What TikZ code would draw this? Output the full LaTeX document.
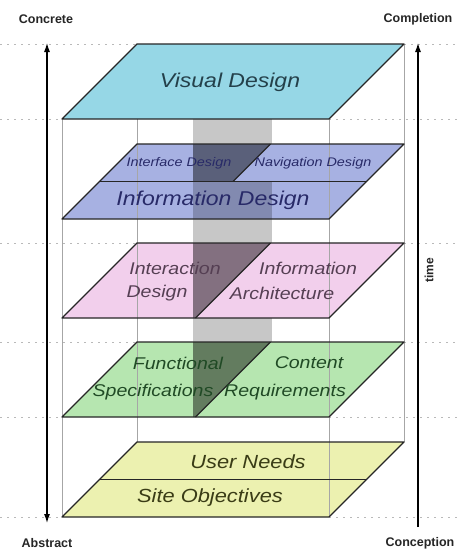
\documentclass[tikz,border=0pt]{standalone}
\usepackage{fontspec}
\setmainfont{Liberation Sans}
\usetikzlibrary{arrows.meta}
\definecolor{cvis}{HTML}{96D7E6}
\definecolor{cinf}{HTML}{A7B1E2}
\definecolor{cint}{HTML}{F2CFEC}
\definecolor{cfun}{HTML}{B6E6B0}
\definecolor{cusr}{HTML}{ECF1B0}
\definecolor{tvis}{HTML}{24404A}
\definecolor{tinf}{HTML}{282A68}
\definecolor{tint}{HTML}{553F53}
\definecolor{tfun}{HTML}{204A25}
\definecolor{tusr}{HTML}{3A3C16}
\newcommand\wideit[1]{\scalebox{1.15}[1]{#1}}
\newcommand\mkplane[2]{%
  \coordinate (#1BL) at (137,#2);
  \coordinate (#1BR) at (404,#2);
  \coordinate (#1FL) at (62,#2+75);
  \coordinate (#1FR) at (329,#2+75);
  \coordinate (#1BM) at (270.5,#2);
  \coordinate (#1FM) at (195.5,#2+75);
  \coordinate (#1ML) at (99.5,#2+37.5);
  \coordinate (#1MR) at (366.5,#2+37.5);
  \coordinate (#1MM) at (233,#2+37.5);
}
\begin{document}
\begin{tikzpicture}[x=1pt,y=-1pt,
  dots/.style={gray!55, line width=0.9pt, dash pattern=on 1.5pt off 5.5pt},
  edgeline/.style={gray!70, line width=0.6pt},
  outline/.style={draw=black!85, line width=1.3pt, line join=round},
  ax/.style={line width=1.1pt, black},
  axlbl/.style={font=\fontsize{12.5}{14}\selectfont\bfseries, text=black!85, inner sep=0pt},
  big/.style={font=\fontsize{20}{22}\selectfont\itshape, inner sep=0pt},
  mid/.style={font=\fontsize{17}{19}\selectfont\itshape, inner sep=0pt},
  small/.style={font=\fontsize{12.5}{14}\selectfont\itshape, inner sep=0pt},
]
\useasboundingbox (0,0) rectangle (459,550);
\fill[white] (0,0) rectangle (459,550);
\mkplane{V}{44}
\mkplane{I}{144}
\mkplane{X}{243}
\mkplane{F}{342}
\mkplane{U}{442}
% dotted guide lines
\draw[dots] (0,44) -- (VBL);  \draw[dots] (VBR) -- (459,44);
\draw[dots] (0,119) -- (VFL); \draw[dots] (VFR) -- (459,119);
\draw[dots] (0,243) -- (XBL); \draw[dots] (XBR) -- (459,243);
\draw[dots] (0,342) -- (FBL); \draw[dots] (FBR) -- (459,342);
\draw[dots] (0,417) -- (FFL); \draw[dots] (FFR) -- (459,417);
\draw[dots] (0,517) -- (UFL); \draw[dots] (UFR) -- (459,517);
% plane fills
\fill[cvis] (VFL) -- (VFR) -- (VBR) -- (VBL) -- cycle;
\fill[cinf] (IFL) -- (IFR) -- (IBR) -- (IBL) -- cycle;
\fill[cint] (XFL) -- (XFR) -- (XBR) -- (XBL) -- cycle;
\fill[cfun] (FFL) -- (FFR) -- (FBR) -- (FBL) -- cycle;
\fill[cusr] (UFL) -- (UFR) -- (UBR) -- (UBL) -- cycle;
% gray column
\fill[black, opacity=0.22] (193,119) rectangle (272,417);
% right halves stay clear
\fill[cinf] (IBM) -- (IBR) -- (IMR) -- (IMM) -- cycle;
\fill[cint] (XBM) -- (XBR) -- (XFR) -- (XFM) -- cycle;
\fill[cfun] (FBM) -- (FBR) -- (FFR) -- (FFM) -- cycle;
% darker intersections
\fill[black, opacity=0.3] (193,144) -- (IBM) -- (IMM) -- (193,181.5) -- cycle;
\fill[black, opacity=0.3] (193,243) -- (XBM) -- (XFM) -- (193,318) -- cycle;
\fill[black, opacity=0.3] (193,342) -- (FBM) -- (FFM) -- (193,417) -- cycle;
% box edges
\draw[edgeline] (VFL) -- (UFL);
\draw[edgeline] (VBL |- VFL) -- (UBL);
\draw[edgeline] (VFR) -- (UFR);
\draw[edgeline] (VBR) -- (UBR);
% outlines
\draw[outline] (VFL) -- (VFR) -- (VBR) -- (VBL) -- cycle;
\draw[outline] (IFL) -- (IFR) -- (IBR) -- (IBL) -- cycle;
\draw[outline] (IML) -- (IMR);
\draw[outline] (IBM) -- (IMM);
\draw[outline] (XFL) -- (XFR) -- (XBR) -- (XBL) -- cycle;
\draw[outline] (XBM) -- (XFM);
\draw[outline] (FFL) -- (FFR) -- (FBR) -- (FBL) -- cycle;
\draw[outline] (FBM) -- (FFM);
\draw[outline] (UFL) -- (UFR) -- (UBR) -- (UBL) -- cycle;
\draw[outline] (UML) -- (UMR);
% plane texts
\node[big, text=tvis] (tv) at (230,82) {\wideit{Visual Design}};
\node[small, text=tinf] (tif) at (179,163) {\wideit{Interface Design}};
\node[small, text=tinf] (tnv) at (313,163) {\wideit{Navigation Design}};
\node[big, text=tinf] (tin) at (213,200) {\wideit{Information Design}};
\node[mid, text=tint] (tx1) at (175,268) {\wideit{Interaction}};
\node[mid, text=tint] (tx2) at (157,293) {\wideit{Design}};
\node[mid, text=tint] (ta1) at (308,268) {\wideit{Information}};
\node[mid, text=tint] (ta2) at (282,293) {\wideit{Architecture}};
\node[mid, text=tfun] (tf1) at (178,363) {\wideit{Functional}};
\node[mid, text=tfun] (tf2) at (153,392) {\wideit{Specifications}};
\node[mid, text=tfun] (tc1) at (309,363) {\wideit{Content}};
\node[mid, text=tfun] (tc2) at (285,392) {\wideit{Requirements}};
\node[mid, font=\fontsize{19}{21}\selectfont\itshape, text=tusr] (tun) at (248,462) {\wideit{User Needs}};
\node[mid, font=\fontsize{19}{21}\selectfont\itshape, text=tusr] (tso) at (210,498) {\wideit{Site Objectives}};
% axes
\coordinate (lt) at (47,43);
\coordinate (lb) at (47,523);
\coordinate (rt) at (418,43);
\coordinate (rb) at (418,527);
\draw[ax, {Latex[length=9pt,width=6pt]}-{Latex[length=9pt,width=6pt]}] (lb) -- (lt);
\draw[ax, -{Latex[length=9pt,width=6pt]}] (rb) -- (rt);
\node[axlbl] (concrete) at (46,19) {Concrete};
\node[axlbl] (completion) at (418,19) {Completion};
\node[axlbl] (abstract) at (47,543) {Abstract};
\node[axlbl] (conception) at (420,543) {Conception};
\node[axlbl, font=\fontsize{12}{14}\selectfont\bfseries, rotate=90] (time) at (429,270) {time};
\end{tikzpicture}
\end{document}
